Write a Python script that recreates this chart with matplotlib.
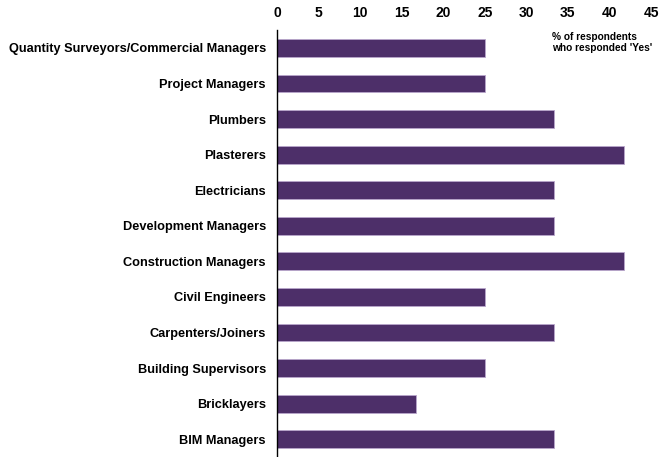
import matplotlib
matplotlib.use("Agg")
import matplotlib.pyplot as plt

plt.rcParams['font.family'] = ['Liberation Sans', 'DejaVu Sans']

roles = [
    "Quantity Surveyors/Commercial Managers",
    "Project Managers",
    "Plumbers",
    "Plasterers",
    "Electricians",
    "Development Managers",
    "Construction Managers",
    "Civil Engineers",
    "Carpenters/Joiners",
    "Building Supervisors",
    "Bricklayers",
    "BIM Managers",
]
pct_yes = [25.0, 25.0, 33.3, 41.7, 33.3, 33.3, 41.7, 25.0, 33.3, 25.0, 16.7, 33.3]

fig = plt.figure(figsize=(6.61, 4.57), dpi=100)
ax = fig.add_axes([0.419, 0.0, 0.566, 0.934])

ypos = range(len(roles))
ax.barh(ypos, pct_yes, height=0.5, color="#4d2f69", edgecolor="#b9a6cc", linewidth=0.6)

ax.set_ylim(len(roles) - 0.5, -0.5)
ax.set_xlim(0, 45)
ax.set_xticks(range(0, 50, 5))
ax.xaxis.tick_top()
ax.tick_params(axis='x', length=0, pad=7, labelsize=10)
ax.tick_params(axis='y', length=0, pad=8, labelsize=9.2)
for lbl in ax.get_xticklabels() + ax.get_yticklabels():
    lbl.set_fontweight('bold')
ax.set_yticks(list(ypos))
ax.set_yticklabels(roles)

for side in ('top', 'right', 'bottom'):
    ax.spines[side].set_visible(False)
ax.spines['left'].set_linewidth(1.0)

fig.text(0.835, 0.93, "% of respondents\nwho responded 'Yes'", ha='left', va='top',
         fontsize=7.3, fontweight='bold', linespacing=1.15)

fig.savefig("out.png", dpi=100)
